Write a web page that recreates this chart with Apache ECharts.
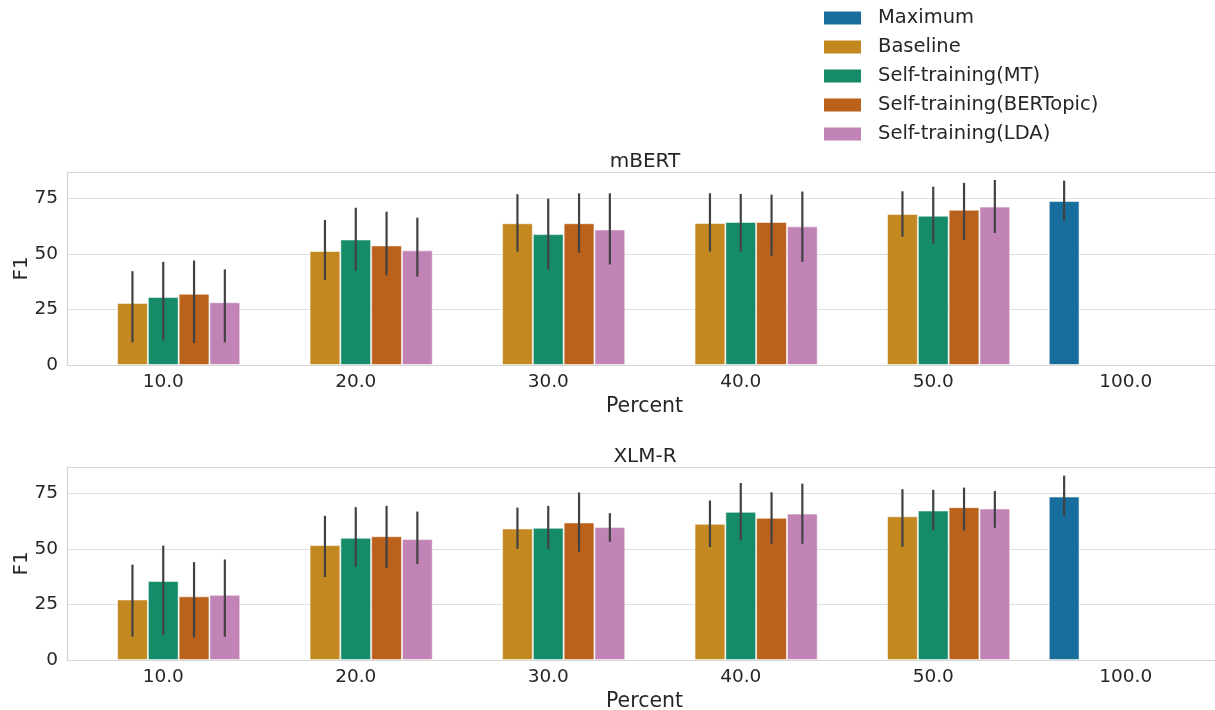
<!DOCTYPE html>
<html>
<head>
<meta charset="utf-8">
<script src="https://cdn.jsdelivr.net/npm/echarts@6/dist/echarts.min.js"></script>
<style>html,body{margin:0;padding:0;background:#fff;}#c{width:1215px;height:710px;}</style>
</head>
<body>
<div id="c"></div>
<script>
const categories = ['10.0', '20.0', '30.0', '40.0', '50.0', '100.0'];
const seriesNames = ['Maximum', 'Baseline', 'Self-training(MT)', 'Self-training(BERTopic)', 'Self-training(LDA)'];
const modelTitles = ['mBERT', 'XLM-R'];
const yTicks = [0, 25, 50, 75];

// mBERT means / error-bar low / error-bar high
const mbertMaximum     = [null, null, null, null, null, 73.9];
const mbertMaximumLo   = [null, null, null, null, null, 64.9];
const mbertMaximumHi   = [null, null, null, null, null, 83.1];
const mbertBaseline    = [28.0, 51.4, 63.9, 64.0, 68.1, null];
const mbertBaselineLo  = [10.2, 38.3, 51.1, 51.1, 57.8, null];
const mbertBaselineHi  = [42.3, 65.4, 77.0, 77.4, 78.3, null];
const mbertMT          = [30.7, 56.6, 59.0, 64.5, 67.3, null];
const mbertMTLo        = [11.0, 42.6, 43.1, 51.1, 54.7, null];
const mbertMTHi        = [46.5, 70.9, 75.0, 77.1, 80.4, null];
const mbertBERTopic    = [32.1, 53.9, 63.9, 64.5, 70.0, null];
const mbertBERTopicLo  = [9.9, 40.4, 50.6, 49.2, 56.3, null];
const mbertBERTopicHi  = [47.1, 69.1, 77.4, 76.8, 82.1, null];
const mbertLDA         = [28.3, 51.7, 61.1, 62.5, 71.4, null];
const mbertLDALo       = [10.2, 39.9, 45.3, 46.5, 59.5, null];
const mbertLDAHi       = [43.1, 66.4, 77.4, 78.2, 83.4, null];

// XLM-R
const xlmrMaximum      = [null, null, null, null, null, 73.7];
const xlmrMaximumLo    = [null, null, null, null, null, 64.8];
const xlmrMaximumHi    = [null, null, null, null, null, 83.1];
const xlmrBaseline     = [27.3, 51.8, 59.3, 61.4, 64.8, null];
const xlmrBaselineLo   = [10.5, 37.4, 50.1, 50.9, 51.0, null];
const xlmrBaselineHi   = [43.0, 65.0, 68.7, 71.9, 77.0, null];
const xlmrMT           = [35.6, 55.1, 59.6, 66.8, 67.4, null];
const xlmrMTLo         = [11.3, 42.2, 50.0, 53.9, 58.4, null];
const xlmrMTHi         = [51.6, 68.9, 69.5, 79.8, 76.7, null];
const xlmrBERTopic     = [28.7, 55.8, 62.0, 64.1, 68.9, null];
const xlmrBERTopicLo   = [10.1, 41.4, 48.8, 52.4, 58.4, null];
const xlmrBERTopicHi   = [44.1, 69.5, 75.5, 75.6, 77.7, null];
const xlmrLDA          = [29.4, 54.5, 59.9, 66.0, 68.3, null];
const xlmrLDALo        = [10.5, 43.2, 53.3, 52.4, 59.6, null];
const xlmrLDAHi        = [45.3, 66.9, 66.2, 79.5, 76.2, null];

const colors = ['#176d9c', '#c38820', '#168b6a', '#ba611b', '#c283b6'];

const models = [
  { means: [mbertMaximum, mbertBaseline, mbertMT, mbertBERTopic, mbertLDA],
    lo: [mbertMaximumLo, mbertBaselineLo, mbertMTLo, mbertBERTopicLo, mbertLDALo],
    hi: [mbertMaximumHi, mbertBaselineHi, mbertMTHi, mbertBERTopicHi, mbertLDAHi] },
  { means: [xlmrMaximum, xlmrBaseline, xlmrMT, xlmrBERTopic, xlmrLDA],
    lo: [xlmrMaximumLo, xlmrBaselineLo, xlmrMTLo, xlmrBERTopicLo, xlmrLDALo],
    hi: [xlmrMaximumHi, xlmrBaselineHi, xlmrMTHi, xlmrBERTopicHi, xlmrLDAHi] }
];

const textColor = '#262626';
const font = 'DejaVu Sans';
const gridTops = [172, 467];
const gridH = 193;

const grids = [], xAxes = [], yAxes = [], titles = [], series = [];
models.forEach((m, gi) => {
  grids.push({ left: 67, top: gridTops[gi], width: 1155, height: gridH, show: false,
    containLabel: false, outerBoundsMode: 'none' });
  titles.push({ text: modelTitles[gi], left: 645, top: gridTops[gi] - 20, textAlign: 'center', padding: 0,
    textStyle: { fontFamily: font, fontSize: 20, fontWeight: 'normal', color: textColor } });
  xAxes.push({ type: 'category', gridIndex: gi, data: categories,
    name: 'Percent', nameLocation: 'middle', nameGap: 31,
    nameTextStyle: { fontFamily: font, fontSize: 20.5, color: textColor },
    axisLine: { show: true, lineStyle: { color: '#d6d6d6', width: 1.2 } },
    axisTick: { show: false },
    axisLabel: { fontFamily: font, fontSize: 18.5, color: textColor, margin: 8 },
    splitLine: { show: false } });
  yAxes.push({ type: 'value', gridIndex: gi, min: 0, max: 87, interval: 25,
    name: 'F1', nameLocation: 'middle', nameGap: 35, nameRotate: 90, nameMoveOverlap: false,
    nameTextStyle: { fontFamily: font, fontSize: 20, color: textColor },
    axisLine: { show: true, lineStyle: { color: '#d6d6d6', width: 1.2 } },
    axisTick: { show: false },
    axisLabel: { fontFamily: font, fontSize: 18.5, color: textColor, margin: 9,
      formatter: v => (yTicks.indexOf(v) >= 0 ? String(v) : '') },
    splitLine: { show: true, lineStyle: { color: '#dedede', width: 1 } } });

  m.means.forEach((vals, k) => {
    series.push({ type: 'bar', name: seriesNames[k], xAxisIndex: gi, yAxisIndex: gi,
      data: vals, barGap: '0%', barCategoryGap: '20%',
      itemStyle: { color: colors[k], borderColor: 'rgba(255,255,255,0.55)', borderWidth: 1 },
      emphasis: { disabled: true }, z: 2 });
  });
  // top spine
  series.push({ type: 'line', xAxisIndex: gi, yAxisIndex: gi, data: [], silent: true,
    markLine: { silent: true, symbol: 'none', label: { show: false },
      lineStyle: { color: '#d6d6d6', type: 'solid', width: 1.2 }, data: [{ yAxis: 87 }] } });
  // error bars
  m.means.forEach((vals, k) => {
    const errData = [];
    vals.forEach((v, i) => { if (v !== null) errData.push([i, m.lo[k][i], m.hi[k][i]]); });
    series.push({ type: 'custom', xAxisIndex: gi, yAxisIndex: gi, silent: true, z: 5,
      data: errData,
      encode: { x: 0, y: [1, 2] },
      renderItem: (params, api) => {
        const i = api.value(0);
        const pLo = api.coord([i, api.value(1)]);
        const pHi = api.coord([i, api.value(2)]);
        const band = api.size([1, 0])[0];
        const off = (0.16 * k - 0.32) * band;
        return { type: 'line', shape: { x1: pLo[0] + off, y1: pLo[1], x2: pHi[0] + off, y2: pHi[1] },
          style: { stroke: '#424242', lineWidth: 2.2 } };
      } });
  });
});

const chart = echarts.init(document.getElementById('c'), null, { renderer: 'canvas' });
chart.setOption({
  animation: false,
  backgroundColor: '#ffffff',
  title: titles,
  legend: { data: seriesNames, orient: 'vertical', left: 824, top: 8, padding: 0,
    itemWidth: 37, itemHeight: 13, itemGap: 9, itemStyle: { borderWidth: 0 }, icon: 'rect',
    textStyle: { fontFamily: font, fontSize: 19.5, color: textColor, padding: [0, 0, 0, 12] } },
  grid: grids, xAxis: xAxes, yAxis: yAxes, series: series
});
</script>
</body>
</html>
